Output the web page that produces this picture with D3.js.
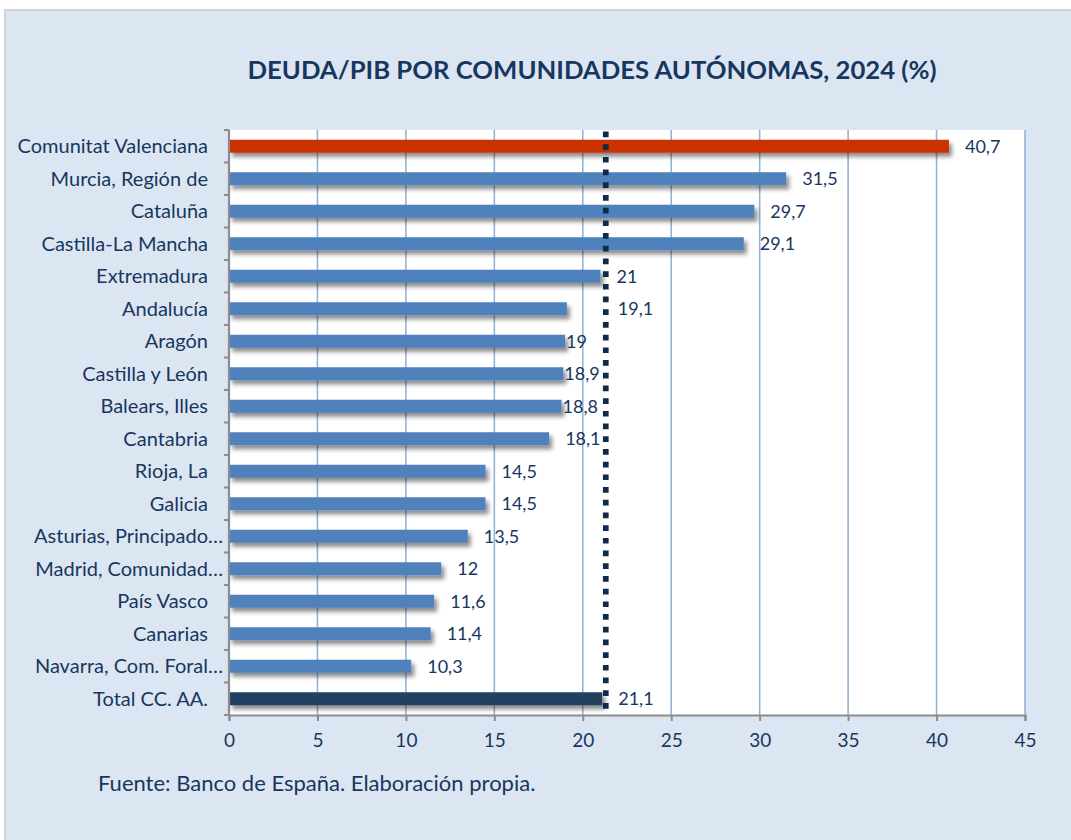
<!DOCTYPE html>
<html>
<head>
<meta charset="utf-8">
<script src="https://cdn.jsdelivr.net/npm/d3@7"></script>
<style>
  html, body { margin: 0; padding: 0; background: #ffffff; }
  svg { display: block; }
  text { font-family: Lato, "Open Sans", sans-serif; fill: #17375e; }
</style>
</head>
<body>
<svg id="chart" width="1071" height="840"></svg>
<script>
// ---- Data ----
const categories = [
  "Comunitat Valenciana", "Murcia, Región de", "Cataluña", "Castilla-La Mancha",
  "Extremadura", "Andalucía", "Aragón", "Castilla y León", "Balears, Illes",
  "Cantabria", "Rioja, La", "Galicia", "Asturias, Principado…", "Madrid, Comunidad…",
  "País Vasco", "Canarias", "Navarra, Com. Foral…", "Total CC. AA."
];
const values = [40.7, 31.5, 29.7, 29.1, 21, 19.1, 19, 18.9, 18.8, 18.1, 14.5, 14.5, 13.5, 12, 11.6, 11.4, 10.3, 21.1];
const xTicks = [0, 5, 10, 15, 20, 25, 30, 35, 40, 45];
const refLineValue = 21.3;   // dotted reference line (Total CC. AA.)
const title = "DEUDA/PIB POR COMUNIDADES AUTÓNOMAS, 2024 (%)";
const source = "Fuente: Banco de España. Elaboración propia.";

// ---- Layout ----
const W = 1071, H = 840;
const plot = { left: 229, right: 1025, top: 130, bottom: 715 };
const colors = { bar: "#4f81bd", highlight: "#cc3300", total: "#243f60", grid: "#95b3d7", axis: "#8c8c8c", line: "#0f2a4a" };

const svg = d3.select("#chart");

const defs = svg.append("defs");
const f = defs.append("filter").attr("id", "shadow").attr("x", "-5%").attr("y", "-50%").attr("width", "115%").attr("height", "250%");
f.append("feDropShadow").attr("dx", 3).attr("dy", 4).attr("stdDeviation", 2.2)
  .attr("flood-color", "#000").attr("flood-opacity", 0.45);

// Background
svg.append("rect").attr("x", 0).attr("y", 0).attr("width", W).attr("height", H).attr("fill", "#ffffff");
svg.append("rect").attr("x", 5).attr("y", 10).attr("width", W + 10).attr("height", H + 10)
  .attr("fill", "#dce6f2").attr("stroke", "#d4d4d4").attr("stroke-width", 2);

// Title
svg.append("text").attr("x", 592).attr("y", 79).attr("text-anchor", "middle")
  .attr("font-size", 24).attr("font-weight", 700).attr("fill", "#17375e")
  .attr("textLength", 689).attr("lengthAdjust", "spacingAndGlyphs")
  .text(title);

// Scales
const x = d3.scaleLinear().domain([0, 45]).range([plot.left, plot.right]);
const y = d3.scaleBand().domain(categories).range([plot.top, plot.bottom]).paddingInner(0.6).paddingOuter(0.3);

// Plot area
svg.append("rect").attr("x", plot.left).attr("y", plot.top)
  .attr("width", plot.right - plot.left).attr("height", plot.bottom - plot.top).attr("fill", "#ffffff");

// Grid lines
svg.append("g").selectAll("line").data(xTicks.filter(d => d > 0)).join("line")
  .attr("x1", d => x(d)).attr("x2", d => x(d))
  .attr("y1", plot.top).attr("y2", plot.bottom)
  .attr("stroke", colors.grid).attr("stroke-width", 1.6);

// Bars
const barColor = (c, i) => i === 0 ? colors.highlight : (c.startsWith("Total") ? colors.total : colors.bar);
svg.append("g").selectAll("rect").data(categories).join("rect")
  .attr("x", x(0)).attr("y", c => y(c))
  .attr("width", (c, i) => x(values[i]) - x(0))
  .attr("height", y.bandwidth())
  .attr("fill", (c, i) => barColor(c, i))
  .attr("filter", "url(#shadow)");

// X axis
const xAxis = d3.axisBottom(x).tickValues(xTicks).tickSize(6).tickPadding(13).tickFormat(d3.format("d"));
const gx = svg.append("g").attr("transform", `translate(0,${plot.bottom})`).call(xAxis);
gx.select(".domain").attr("stroke", colors.axis).attr("stroke-width", 2.2);
gx.selectAll(".tick line").attr("stroke", colors.axis).attr("stroke-width", 2);
gx.selectAll(".tick text").attr("font-size", 19).attr("fill", "#17375e").attr("font-family", "Lato, sans-serif");

// Y axis line & ticks (ticks at band boundaries)
const step = y.step();
const boundaries = d3.range(categories.length + 1).map(i => plot.top + i * step);
svg.append("line").attr("x1", plot.left).attr("x2", plot.left).attr("y1", plot.top).attr("y2", plot.bottom + 1)
  .attr("stroke", colors.axis).attr("stroke-width", 2.2);
svg.append("g").selectAll("line").data(boundaries).join("line")
  .attr("x1", plot.left - 5).attr("x2", plot.left)
  .attr("y1", d => d).attr("y2", d => d)
  .attr("stroke", colors.axis).attr("stroke-width", 2);

// Category labels
svg.append("g").selectAll("text").data(categories).join("text")
  .attr("x", c => c.endsWith("…") ? plot.left - 6 : plot.left - 21)
  .attr("y", c => y(c) + y.bandwidth() / 2)
  .attr("dy", "0.36em")
  .attr("text-anchor", "end")
  .attr("font-size", 20)
  .text(c => c);

// Reference dotted line
const lx = x(refLineValue);
svg.append("line").attr("x1", lx).attr("x2", lx).attr("y1", plot.top).attr("y2", plot.bottom)
  .attr("stroke", colors.line).attr("stroke-width", 5.7)
  .attr("stroke-dasharray", "5.7 7").attr("stroke-dashoffset", -1.5);

// Value labels
const fmt = v => String(v).replace(".", ",");
const vl = svg.append("g").selectAll("text").data(categories).join("text")
  .attr("y", c => y(c) + y.bandwidth() / 2)
  .attr("dy", "0.36em")
  .attr("font-size", 18)
  .text((c, i) => fmt(values[i]));
vl.each(function (c, i) {
  const end = x(values[i]);
  const w = this.getComputedTextLength();
  let px = end + 16;
  const overlaps = px < lx + 4 && px + w > lx - 4;
  if (overlaps) {
    px = (end + 1 + w < lx - 4) ? end + 1 : lx + 12;
  }
  d3.select(this).attr("x", px);
});

// Source
svg.append("text").attr("x", 98).attr("y", 791).attr("font-size", 22).text(source);
</script>
</body>
</html>
